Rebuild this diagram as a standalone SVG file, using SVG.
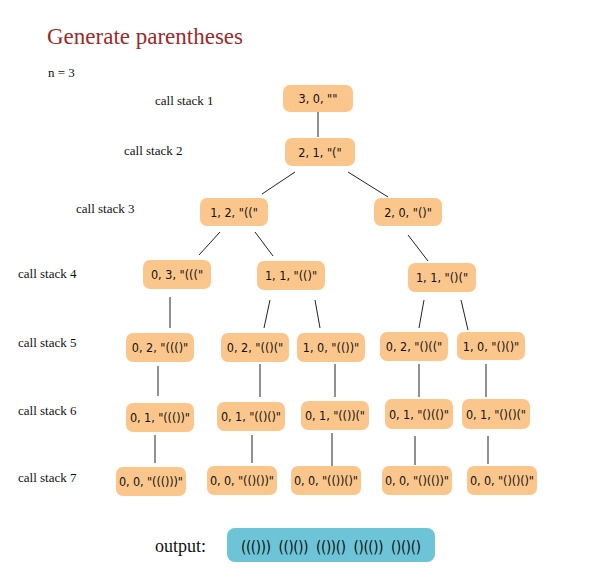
<svg xmlns="http://www.w3.org/2000/svg" width="600" height="584" viewBox="0 0 600 584">
<style>
.n{fill:#fbc68c;}
.t{font-family:"DejaVu Sans Condensed","DejaVu Sans",sans-serif;font-size:12.5px;fill:#111;text-anchor:middle;}
.l{font-family:"Liberation Serif",serif;font-size:13px;fill:#111;}
.c line{stroke:#222;stroke-width:1;}
</style>
<rect width="600" height="584" fill="#fff"/>
<text x="47" y="44" style="font-family:'Liberation Serif',serif;font-size:23px;fill:#9b2b2b">Generate parentheses</text>
<text x="48" y="77" class="l">n = 3</text>
<text x="155" y="105" class="l">call stack 1</text>
<text x="124" y="155" class="l">call stack 2</text>
<text x="76" y="213" class="l">call stack 3</text>
<text x="18" y="278" class="l">call stack 4</text>
<text x="18" y="347" class="l">call stack 5</text>
<text x="18" y="415" class="l">call stack 6</text>
<text x="18" y="482" class="l">call stack 7</text>
<g class="c">
<line x1="318" y1="111" x2="318" y2="137"/>
<line x1="295" y1="172" x2="262" y2="194"/>
<line x1="348" y1="172" x2="388" y2="197"/>
<line x1="220" y1="232" x2="199" y2="255"/>
<line x1="255" y1="232" x2="273" y2="256"/>
<line x1="408" y1="235" x2="428" y2="261"/>
<line x1="170" y1="297" x2="170" y2="328"/>
<line x1="270" y1="300" x2="264" y2="328"/>
<line x1="315" y1="300" x2="320" y2="328"/>
<line x1="424" y1="300" x2="419" y2="328"/>
<line x1="461" y1="300" x2="468" y2="330"/>
<line x1="158" y1="366" x2="158" y2="396"/>
<line x1="260" y1="364" x2="260" y2="397"/>
<line x1="335" y1="364" x2="335" y2="397"/>
<line x1="419" y1="364" x2="419" y2="397"/>
<line x1="486" y1="364" x2="486" y2="397"/>
<line x1="155" y1="435" x2="155" y2="463"/>
<line x1="252" y1="435" x2="252" y2="463"/>
<line x1="332" y1="433" x2="332" y2="466"/>
<line x1="415" y1="436" x2="415" y2="465"/>
<line x1="488" y1="436" x2="488" y2="464"/>
</g>
<g id="n1"><rect class="n" x="283" y="85" width="70" height="27" rx="7"/><text class="t" x="318" y="103">3, 0, ""</text></g>
<g id="n2"><rect class="n" x="285" y="138" width="70" height="28" rx="7"/><text class="t" x="320" y="157">2, 1, "("</text></g>
<g id="n3a"><rect class="n" x="200" y="198" width="68" height="28" rx="7"/><text class="t" x="234" y="217">1, 2, "(("</text></g>
<g id="n3b"><rect class="n" x="374" y="198" width="68" height="28" rx="7"/><text class="t" x="408" y="217">2, 0, "()"</text></g>
<g id="n4a"><rect class="n" x="143" y="260" width="68" height="29" rx="7"/><text class="t" x="177" y="279">0, 3, "((("</text></g>
<g id="n4b"><rect class="n" x="257" y="261" width="68" height="29" rx="7"/><text class="t" x="291" y="280">1, 1, "(()"</text></g>
<g id="n4c"><rect class="n" x="408" y="263" width="68" height="29" rx="7"/><text class="t" x="442" y="282">1, 1, "()("</text></g>
<g id="n5a"><rect class="n" x="126" y="333" width="68" height="29" rx="7"/><text class="t" x="160" y="352">0, 2, "((()"</text></g>
<g id="n5b"><rect class="n" x="221" y="333" width="68" height="29" rx="7"/><text class="t" x="255" y="352">0, 2, "(()("</text></g>
<g id="n5c"><rect class="n" x="297" y="333" width="68" height="29" rx="7"/><text class="t" x="331" y="352">1, 0, "(())"</text></g>
<g id="n5d"><rect class="n" x="380" y="332" width="68" height="29" rx="7"/><text class="t" x="414" y="351">0, 2, "()(("</text></g>
<g id="n5e"><rect class="n" x="457" y="332" width="68" height="28" rx="7"/><text class="t" x="491" y="351">1, 0, "()()"</text></g>
<g id="n6a"><rect class="n" x="126" y="403" width="68" height="29" rx="7"/><text class="t" x="160" y="422" textLength="60">0, 1, "((())"</text></g>
<g id="n6b"><rect class="n" x="217" y="402" width="68" height="29" rx="7"/><text class="t" x="251" y="421" textLength="60">0, 1, "(()()"</text></g>
<g id="n6c"><rect class="n" x="301" y="401" width="68" height="29" rx="7"/><text class="t" x="335" y="420" textLength="60">0, 1, "(())("</text></g>
<g id="n6d"><rect class="n" x="385" y="399" width="68" height="30" rx="7"/><text class="t" x="419" y="419" textLength="60">0, 1, "()(()"</text></g>
<g id="n6e"><rect class="n" x="462" y="399" width="68" height="30" rx="7"/><text class="t" x="496" y="419" textLength="60">0, 1, "()()("</text></g>
<g id="n7a"><rect class="n" x="116" y="467" width="70" height="29" rx="7"/><text class="t" x="151" y="486" textLength="64">0, 0, "((()))"</text></g>
<g id="n7b"><rect class="n" x="207" y="466" width="70" height="29" rx="7"/><text class="t" x="242" y="485" textLength="64">0, 0, "(()())"</text></g>
<g id="n7c"><rect class="n" x="291" y="466" width="70" height="29" rx="7"/><text class="t" x="326" y="485" textLength="64">0, 0, "(())()"</text></g>
<g id="n7d"><rect class="n" x="382" y="466" width="70" height="29" rx="7"/><text class="t" x="417" y="485" textLength="64">0, 0, "()(())"</text></g>
<g id="n7e"><rect class="n" x="467" y="466" width="70" height="29" rx="7"/><text class="t" x="502" y="485" textLength="64">0, 0, "()()()"</text></g>
<g id="output">
<text x="155" y="552" style="font-family:'Liberation Serif',serif;font-size:18px;fill:#111">output:</text>
<rect x="227" y="528" width="208" height="34" rx="8" fill="#6cc4d6"/>
<text x="331" y="552" style="font-family:'DejaVu Sans Condensed',sans-serif;font-size:15px;fill:#111;text-anchor:middle" textLength="180" xml:space="preserve">((()))  (()())  (())()  ()(())  ()()()</text>
</g>
</svg>
